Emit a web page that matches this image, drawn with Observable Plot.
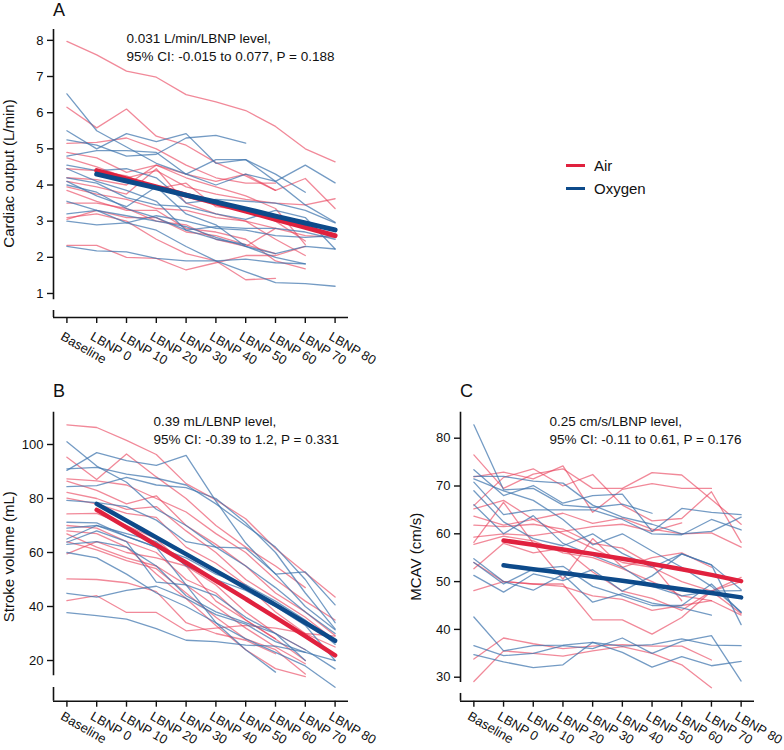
<!DOCTYPE html>
<html><head><meta charset="utf-8">
<script src="https://cdn.jsdelivr.net/npm/d3@7"></script>
<script src="https://cdn.jsdelivr.net/npm/@observablehq/plot@0.6"></script>
<style>
body{margin:0;background:#fff;font-family:"Liberation Sans",Arial,sans-serif}
#wrap{position:relative;width:784px;height:750px;overflow:hidden}
.panel{position:absolute}
.letter{position:absolute;font-size:18px;line-height:18px;color:#111}
.legend{position:absolute;left:566px;top:154px;font-size:15px;color:#111}
.legend div{display:flex;align-items:center;height:23px}
.legend span.sw{display:inline-block;width:19px;height:0;border-top:3.5px solid;margin-right:9px}
</style></head>
<body><div id="wrap"></div>
<script>
const levels = ["Baseline","LBNP 0","LBNP 10","LBNP 20","LBNP 30","LBNP 40","LBNP 50","LBNP 60","LBNP 70","LBNP 80"];
const groups = ["Air","Oxygen"];

// Panel A: cardiac output (L/min), one row per participant, Baseline..LBNP 80
const coAir = [
  [7.97,7.60,7.15,6.98,6.50,6.30,6.06,5.62,5.00,4.64],
  [6.15,5.58,6.10,5.35,5.10,4.62,4.25,3.85,4.18,3.35],
  [5.15,5.18,5.30,5.00,4.55,4.20,4.05,4.05,null,null],
  [4.90,4.75,4.35,4.55,4.30,4.10,4.30,3.85,null,null],
  [4.75,4.50,4.20,4.40,3.95,3.75,3.60,3.50,3.45,3.62],
  [4.45,4.40,4.25,3.90,4.05,3.40,3.30,3.00,2.45,null],
  [4.20,4.15,4.00,4.55,4.20,3.95,3.70,3.35,2.35,null],
  [4.10,3.95,3.75,4.45,3.50,3.20,3.00,2.50,2.05,null],
  [3.95,3.75,3.60,3.35,3.30,3.10,3.00,2.80,2.60,2.55],
  [3.85,3.55,3.30,3.30,2.80,2.70,2.50,1.90,1.68,null],
  [3.50,3.50,3.35,3.00,2.90,2.50,2.30,2.80,null,null],
  [3.10,3.20,3.00,2.50,2.10,1.90,1.38,1.42,null,null],
  [3.05,3.30,3.10,3.10,2.70,2.60,2.35,2.10,null,null],
  [2.33,2.33,2.00,1.97,1.65,1.85,2.05,2.05,2.30,null]
];
const coOxygen = [
  [6.52,5.50,5.05,4.60,4.30,4.70,4.70,4.30,3.80,null],
  [5.50,5.00,5.42,5.20,5.42,4.60,4.70,4.10,4.55,4.06],
  [5.25,5.10,4.80,4.85,5.30,5.37,5.16,null,null,null],
  [4.80,4.95,4.95,4.90,4.30,4.00,4.30,4.10,3.45,2.97],
  [4.55,4.40,4.45,4.20,3.50,3.60,3.55,3.50,3.30,2.95],
  [4.45,4.10,3.85,3.55,2.75,2.85,2.80,2.80,2.70,2.50],
  [4.20,4.05,3.65,3.45,3.40,3.20,3.05,3.30,3.10,2.23],
  [4.10,3.70,3.40,3.95,3.20,2.90,2.30,2.10,2.30,2.23],
  [4.00,3.80,3.35,3.10,2.75,2.50,2.35,null,null,null],
  [3.55,3.30,3.15,3.00,2.85,2.55,2.30,2.00,1.82,null],
  [3.20,3.30,2.95,2.75,2.30,1.90,1.60,1.30,1.27,1.20],
  [3.00,2.90,2.95,3.15,3.00,2.80,2.75,2.60,2.55,2.60],
  [2.30,2.18,2.15,1.97,1.90,1.90,1.95,1.85,1.82,null]
];
// model fits, LBNP 0..LBNP 80
const coAirFit = [4.40,4.17,3.95,3.72,3.50,3.28,3.05,2.83,2.60];
const coOxygenFit = [4.30,4.11,3.92,3.72,3.53,3.34,3.14,2.95,2.76];

// Panel B: stroke volume (mL)
const svAir = [
  [107.3,106.3,101.5,96.3,85.5,79.5,72.5,61.5,52.5,43.5],
  [95.3,87.0,96.5,88.0,80.0,70.0,62.0,55.0,47.0,null],
  [87.3,86.5,85.0,80.0,75.0,67.0,60.0,50.0,42.0,35.0],
  [86.4,83.0,78.0,81.0,70.0,63.0,55.0,45.0,38.0,29.3],
  [82.3,80.0,76.0,77.0,68.0,60.0,50.0,43.0,36.0,27.4],
  [80.1,78.0,74.5,73.0,62.0,56.0,48.0,38.0,30.0,25.0],
  [74.3,74.5,70.0,65.0,55.0,48.0,38.0,30.0,24.0,null],
  [70.0,69.0,64.0,60.0,50.0,45.0,35.0,28.0,20.0,null],
  [66.9,62.0,58.0,55.0,48.0,40.0,32.0,25.0,18.8,null],
  [64.0,61.0,57.0,54.0,45.0,36.0,28.0,24.0,15.0,null],
  [59.5,64.0,60.0,58.0,55.0,42.0,35.0,28.0,null,null],
  [68.0,67.0,62.0,52.0,43.0,33.0,24.0,17.0,14.0,null],
  [50.2,50.0,48.8,45.5,34.0,30.0,27.5,22.5,null,null],
  [42.2,44.0,37.8,37.8,31.0,32.0,33.0,32.0,30.0,29.0]
];
const svOxygen = [
  [101.0,92.0,86.0,76.0,70.0,62.0,55.0,47.0,38.0,30.0],
  [90.4,97.0,94.0,92.3,96.0,79.0,63.5,52.0,52.8,40.6],
  [91.0,91.5,89.0,87.5,85.0,78.0,70.0,62.0,50.0,34.0],
  [84.4,84.8,87.8,85.0,84.0,80.0,71.0,60.0,45.0,31.7],
  [79.3,78.5,77.0,72.0,64.0,62.0,61.6,52.1,40.0,31.4],
  [71.2,71.0,66.0,62.0,58.0,52.0,48.0,42.0,35.0,26.0],
  [65.0,70.0,67.0,64.0,55.0,50.0,46.0,40.0,33.0,20.0],
  [63.8,68.0,64.0,49.0,48.0,44.0,36.0,30.0,24.0,16.9],
  [63.0,64.0,62.0,55.0,44.0,38.0,34.0,30.0,20.0,null],
  [69.0,70.0,66.0,62.0,48.0,34.0,24.0,15.7,null,null],
  [60.0,58.0,52.0,45.0,40.0,34.0,28.0,23.0,18.0,10.1],
  [44.9,43.5,46.0,47.5,43.0,37.0,33.5,27.0,23.0,null],
  [37.7,36.6,35.3,31.8,27.5,27.0,25.7,25.3,23.0,20.0]
];
const svAirFit = [75.8,69.3,62.8,56.2,49.5,42.8,36.0,29.0,21.9];
const svOxygenFit = [78.0,71.8,65.6,59.4,53.2,46.9,40.6,34.0,27.3];

// Panel C: middle cerebral artery velocity (cm/s)
const mcavAir = [
  [76.5,69.5,72.5,73.6,69.5,69.5,72.8,72.3,67.2,62.0],
  [71.9,72.9,71.5,74.2,64.5,69.3,70.5,69.5,69.5,null],
  [65.9,71.8,73.6,70.0,72.4,66.0,62.7,63.2,68.8,58.2],
  [63.7,61.8,63.0,64.3,62.2,63.3,61.0,60.0,60.2,57.2],
  [59.3,60.0,59.6,60.5,61.5,62.0,60.5,62.3,null,null],
  [58.2,66.6,58.0,50.5,59.0,53.0,55.0,56.0,53.0,null],
  [57.8,59.5,58.5,56.0,55.0,52.7,50.0,47.0,46.0,null],
  [52.7,58.0,56.0,57.0,52.0,48.0,46.5,44.0,48.0,50.9],
  [48.1,50.0,49.5,49.5,42.0,42.0,39.0,42.5,48.0,43.3],
  [65.2,67.0,63.0,60.0,57.0,54.0,53.0,50.0,48.0,50.0],
  [54.0,50.0,49.5,49.0,47.0,46.3,44.0,45.0,46.0,43.0],
  [61.8,61.5,62.0,61.0,58.0,57.0,53.5,46.0,null,null],
  [33.8,38.2,37.0,36.0,36.5,36.8,36.5,36.5,33.6,null],
  [29.1,35.5,35.0,34.4,35.5,36.4,35.0,32.6,27.8,null]
];
const mcavOxygen = [
  [82.8,69.2,69.5,66.0,65.5,66.2,64.3,null,null,null],
  [73.4,68.0,70.1,66.4,68.0,68.3,60.5,65.3,64.5,64.0],
  [72.0,72.0,71.0,70.6,66.0,63.5,62.0,60.0,60.5,63.5],
  [70.8,64.0,65.0,65.0,65.0,63.0,60.0,59.8,63.0,60.8],
  [69.0,62.5,59.0,57.5,60.0,55.9,53.0,55.8,53.5,41.0],
  [66.1,60.0,63.8,58.0,55.5,53.0,49.0,47.0,48.0,48.1],
  [71.5,69.0,67.0,63.0,57.7,60.0,56.4,53.0,49.0,43.6],
  [54.8,50.0,48.2,51.5,45.7,47.5,45.5,44.5,43.0,null],
  [54.0,49.5,52.6,53.2,49.0,47.0,45.0,45.0,49.5,43.6],
  [51.3,47.8,51.6,50.2,52.5,48.0,51.2,55.8,53.5,48.3],
  [42.6,35.5,36.6,36.7,37.3,36.5,36.8,38.0,36.7,36.6],
  [36.6,34.5,35.0,36.6,36.0,38.2,35.0,37.5,38.7,29.2],
  [34.7,33.2,32.0,32.6,37.3,35.2,32.1,34.3,32.4,33.3]
];
const mcavAirFit = [58.6,57.7,56.7,55.8,54.8,53.7,52.6,51.4,50.1];
const mcavOxygenFit = [53.4,52.6,51.8,51.0,50.2,49.3,48.4,47.6,46.7];

const yTitles = ["Cardiac output (L/min)","Stroke volume (mL)","MCAV (cm/s)"];
const notes = [
  "0.031 L/min/LBNP level,\n95% CI: -0.015 to 0.077, P = 0.188",
  "0.39 mL/LBNP level,\n95% CI: -0.39 to 1.2, P = 0.331",
  "0.25 cm/s/LBNP level,\n95% CI: -0.11 to 0.61, P = 0.176"
];

const thinColor = {Air: "#e8415a", Oxygen: "#3f74ad"};
const thinOpacity = {Air: 0.62, Oxygen: 0.72};
const boldColor = {Air: "#e0213e", Oxygen: "#0d4a8a"};

function subjectRows(lines, group) {
  const rows = [];
  lines.forEach((vals, k) => vals.forEach((v, i) => rows.push({id: group + k, group, i, v})));
  return rows;
}
function fitRows(vals, group) {
  return vals.map((v, k) => ({group, i: k + 1, v}));
}

const xDomain = [-0.45, 9.45];
const xTicks = d3.range(levels.length);

function makePanel(cfg) {
  const thin = groups.flatMap(g => subjectRows(cfg.lines[g], g));
  const fits = groups.flatMap(g => fitRows(cfg.fits[g], g));
  const lo = cfg.yDomain[0];
  const marks = [
    Plot.ruleX([xDomain[0]], {y1: cfg.yAxis[0], y2: cfg.yAxis[1], stroke: "#111", strokeWidth: 1.6}),
    Plot.ruleX([xDomain[0]], {y1: lo, y2: cfg.corner, stroke: "#111", strokeWidth: 1.6}),
    Plot.ruleY([lo], {x1: xDomain[0], x2: xDomain[1], stroke: "#111", strokeWidth: 1.6}),
    Plot.axisY({ticks: cfg.yTicks, tickSize: 6, tickPadding: 4, label: null, fontSize: 13, stroke: "#111", strokeWidth: 1.4, color: "#111"}),
    Plot.axisX({ticks: xTicks, tickFormat: () => "", tickSize: 6, label: null, strokeWidth: 1.4}),
    Plot.axisX({ticks: xTicks, tickFormat: i => levels[i], tickRotate: 30, tickSize: 0, tickPadding: 9, dx: -5, dy: cfg.labelDy, label: null, fontSize: 13}),
    ...groups.map(g => Plot.line(thin.filter(d => d.group === g), {x: "i", y: "v", z: "id", stroke: thinColor[g], strokeOpacity: thinOpacity[g], strokeWidth: 1.3})),
    ...groups.map(g => Plot.line(fits.filter(d => d.group === g), {x: "i", y: "v", stroke: boldColor[g], strokeWidth: cfg.fitWidth, curve: "monotone-x"})),
    Plot.text([cfg.note], {frameAnchor: "top-left", textAnchor: "start", lineAnchor: "top", dx: cfg.noteDx, dy: 1, fontSize: 13.5, lineHeight: 1.33, fill: "#111"}),
    Plot.text([cfg.title], {frameAnchor: "left", rotate: -90, textAnchor: "middle", lineAnchor: "middle", dx: -44, fontSize: 15, fill: "#111"})
  ];
  const chart = Plot.plot({
    width: cfg.width, height: cfg.height,
    marginLeft: cfg.margin[3], marginRight: cfg.margin[1], marginTop: cfg.margin[0], marginBottom: cfg.margin[2],
    style: {fontFamily: '"Liberation Sans", Arial, sans-serif', background: "transparent", overflow: "visible", color: "#111"},
    x: {domain: xDomain, axis: null},
    y: {domain: cfg.yDomain, axis: null},
    marks
  });
  const div = document.createElement("div");
  div.className = "panel";
  div.style.left = cfg.left + "px";
  div.style.top = cfg.top + "px";
  div.appendChild(chart);
  document.getElementById("wrap").appendChild(div);
}

makePanel({left: 0, top: 0, width: 390, height: 375, margin: [29, 42, 58, 53],
  yDomain: [0.336, 8.30], yAxis: [0.83, 8.30], corner: 0.53, yTicks: d3.range(1, 9),
  lines: {Air: coAir, Oxygen: coOxygen}, fits: {Air: coAirFit, Oxygen: coOxygenFit},
  title: yTitles[0], note: notes[0], noteDx: 73, fitWidth: 5, labelDy: 9});
makePanel({left: 0, top: 375, width: 390, height: 375, margin: [36.7, 42, 49.3, 53],
  yDomain: [4.93, 111.96], yAxis: [14.4, 111.96], corner: 10.0, yTicks: [20, 40, 60, 80, 100],
  lines: {Air: svAir, Oxygen: svOxygen}, fits: {Air: svAirFit, Oxygen: svOxygenFit},
  title: yTitles[1], note: notes[1], noteDx: 100, fitWidth: 4.5, labelDy: 5});
makePanel({left: 390, top: 375, width: 394, height: 375, margin: [36.7, 30, 49.3, 70],
  yDomain: [24.98, 85.44], yAxis: [28.9, 85.44], corner: 26.6, yTicks: [30, 40, 50, 60, 70, 80],
  lines: {Air: mcavAir, Oxygen: mcavOxygen}, fits: {Air: mcavAirFit, Oxygen: mcavOxygenFit},
  title: yTitles[2], note: notes[2], noteDx: 89, fitWidth: 4.5, labelDy: 5});

const wrap = document.getElementById("wrap");
[["A", 53, 1], ["B", 53, 382], ["C", 460, 382]].forEach(([t, x, y]) => {
  const d = document.createElement("div");
  d.className = "letter"; d.textContent = t;
  d.style.left = x + "px"; d.style.top = y + "px";
  wrap.appendChild(d);
});
const leg = document.createElement("div");
leg.className = "legend";
groups.forEach(g => {
  const row = document.createElement("div");
  const sw = document.createElement("span");
  sw.className = "sw"; sw.style.borderTopColor = boldColor[g];
  row.appendChild(sw);
  row.appendChild(document.createTextNode(g));
  leg.appendChild(row);
});
wrap.appendChild(leg);
</script>
</body></html>
